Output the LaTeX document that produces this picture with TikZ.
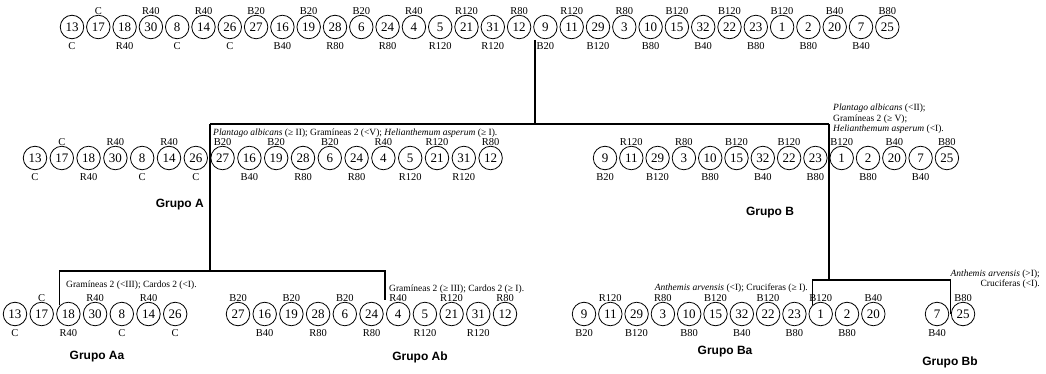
\documentclass[tikz,border=0pt]{standalone}
\usepackage{fontspec}
\setmainfont{Liberation Serif}
\newfontfamily\grupofont{Liberation Sans}
\usepackage{tikz}
\usetikzlibrary{positioning}
\tikzset{
  plot circle/.style={
    circle,
    draw=black,
    line width=0.8pt,
    minimum size=23.5pt,
    inner sep=0pt,
    font=\fontsize{13}{13}\selectfont,
  },
  plot tag/.style={
    inner sep=0pt,
    font=\fontsize{10.5}{10.5}\selectfont,
  },
  rule text/.style={
    inner sep=0pt,
    align=left,
    font=\fontsize{9.5}{10.5}\selectfont,
  },
  group name/.style={
    inner sep=0pt,
    font=\grupofont\bfseries\fontsize{12}{12}\selectfont,
  },
  cluster line/.style={line width=1.1pt},
}
\def\samplelist{13/C,17/C,18/R40,30/R40,8/C,14/R40,26/C,27/B20,16/B40,19/B20,28/R80,6/B20,24/R80,4/R40,5/R120,21/R120,31/R120,12/R80,9/B20,11/R120,29/B120,3/R80,10/B80,15/B120,32/B40,22/B120,23/B80,1/B120,2/B80,20/B40,7/B40,25/B80}
\newcommand{\plotrow}[6]{%
  \foreach \smp/\lab [count=\i] in \samplelist {%
    \ifnum\i<#2\relax\else\ifnum\i>#3\relax\else
      \node[plot circle] (#1\smp) at ({#4+(\i-#2)*#5},#6) {\smp};
      \ifodd\i\relax
        \node[plot tag, below=3pt of #1\smp] (#1\smp tag) {\lab};
      \else
        \node[plot tag, above=0.3pt of #1\smp] (#1\smp tag) {\lab};
      \fi
    \fi\fi
  }%
}

\begin{document}
\begin{tikzpicture}[x=1pt,y=1pt]
  \useasboundingbox (0,0) rectangle (1046,-374);

  \plotrow{t}{1}{32}{72}{26.3}{-27}
  \plotrow{a}{1}{18}{35}{26.8}{-158}
  \plotrow{a}{19}{32}{605}{26.3}{-158}
  \plotrow{b}{1}{7}{15}{26.7}{-314}
  \plotrow{b}{8}{18}{238}{26.7}{-314}
  \plotrow{b}{19}{30}{584}{26.3}{-314}
  \plotrow{b}{31}{32}{937}{26}{-314}

  \coordinate (root) at (535,-40);
  \coordinate (AB bar) at (535,-124);
  \coordinate (A stem) at (210,-124);
  \coordinate (B stem) at (829,-124);
  \coordinate (A fork) at (210,-271);
  \coordinate (B fork) at (829,-280);
  \coordinate (Ab leg) at (385,-300);

  \draw[cluster line] (root) -- (AB bar);
  \draw[cluster line] (A stem) -- (B stem);
  \draw[cluster line] (A stem) -- (A fork);
  \draw[cluster line] (B stem) -- (B fork);
  \draw[cluster line] (b18.north west) |- (A fork) -| (Ab leg);
  \draw[cluster line] (b1.north west) |- (B fork) -| (b25.west);

  \node[rule text, anchor=west] (A rule) at (213,-133)
    {\textit{Plantago albicans} (≥ II); Gramíneas 2 (<V); \textit{Helianthemum asperum} (≥ I).};
  \node[rule text, anchor=west] (B rule) at (833,-119)
    {\textit{Plantago albicans} (<II);\\Gramíneas 2 (≥ V);\\\textit{Helianthemum asperum} (<I).};
  \node[rule text, anchor=west] (Aa rule) at (66,-285) {Gramíneas 2 (<III); Cardos 2 (<I).};
  \node[rule text, anchor=west] (Ab rule) at (389,-289) {Gramíneas 2 (≥ III); Cardos 2 (≥ I).};
  \node[rule text, anchor=east] (Ba rule) at (808,-288)
    {\textit{Anthemis arvensis} (<I); Cruciferas (≥ I).};
  \node[rule text, anchor=east, align=right] (Bb rule) at (1040,-279)
    {\textit{Anthemis arvensis} (>I);\\Cruciferas (<I).};

  \node[group name, anchor=east] (grupo A) at (204,-205) {Grupo A};
  \node[group name] (grupo B) at (770,-213) {Grupo B};
  \node[group name] (grupo Aa) at (97,-357) {Grupo Aa};
  \node[group name] (grupo Ab) at (420,-357) {Grupo Ab};
  \node[group name] (grupo Ba) at (725,-352) {Grupo Ba};
  \node[group name] (grupo Bb) at (950,-362) {Grupo Bb};
\end{tikzpicture}
\end{document}
